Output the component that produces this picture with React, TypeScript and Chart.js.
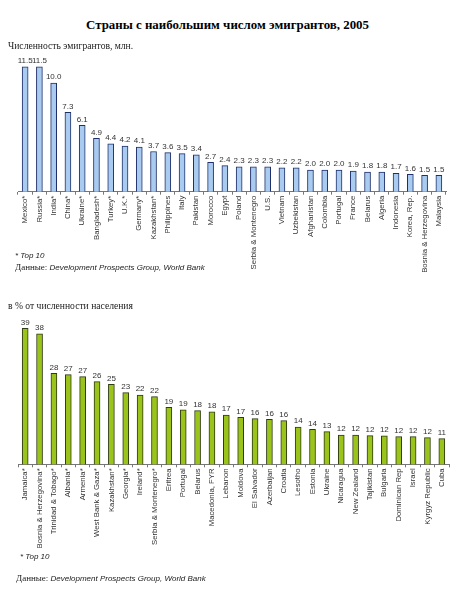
import { useEffect, useRef } from "react"
import { Chart, registerables } from "chart.js"

Chart.register(...registerables)

const emigrantCountries = [
  "Mexico*", "Russia*", "India*", "China*", "Ukraine*", "Bangladesh*", "Turkey*", "U.K.*",
  "Germany*", "Kazakhstan*", "Philippines", "Italy", "Pakistan", "Morocco", "Egypt", "Poland",
  "Serbia & Montenegro", "U.S.", "Vietnam", "Uzbekistan", "Afghanistan", "Colombia", "Portugal",
  "France", "Belarus", "Algeria", "Indonesia", "Korea, Rep.", "Bosnia & Herzegovina", "Malaysia",
]
const emigrantValues = [
  11.5, 11.5, 10.0, 7.3, 6.1, 4.9, 4.4, 4.2, 4.1, 3.7, 3.6, 3.5, 3.4, 2.7, 2.4,
  2.3, 2.3, 2.3, 2.2, 2.2, 2.0, 2.0, 2.0, 1.9, 1.8, 1.8, 1.7, 1.6, 1.5, 1.5,
]

const shareCountries = [
  "Jamaica*", "Bosnia & Herzegovina*", "Trinidad & Tobago*", "Albania*", "Armenia*",
  "West Bank & Gaza*", "Kazakhstan*", "Georgia*", "Ireland*", "Serbia & Montenegro*", "Eritrea",
  "Portugal", "Belarus", "Macedonia, FYR", "Lebanon", "Moldova", "El Salvador", "Azerbaijan",
  "Croatia", "Lesotho", "Estonia", "Ukraine", "Nicaragua", "New Zealand", "Tajikistan", "Bulgaria",
  "Dominican Rep", "Israel", "Kyrgyz Republic", "Cuba",
]
const shareValues = [
  39.0, 37.6, 27.75, 27.4, 26.9, 25.65, 25.0, 22.9, 22.3, 21.9, 19.25, 18.6, 18.4, 18.1, 17.3,
  16.75, 16.4, 16.25, 15.9, 14.3, 13.75, 13.15, 12.3, 12.3, 12.15, 12.1, 11.9, 11.9, 11.65, 11.4,
]

const SANS = "'Liberation Sans', Arial, sans-serif"
const SERIF = "'Liberation Serif', 'Times New Roman', serif"

interface BarPanelProps {
  labels: string[]
  values: number[]
  fill: string
  border: string
  yMin: number
  yMax: number
  decimals: number
  top: number
  height: number
  padLeft: number
  padRight: number
  padTop: number
  axisHeight: number
}

function BarPanel(props: BarPanelProps) {
  const canvasRef = useRef<HTMLCanvasElement>(null)

  useEffect(() => {
    if (!canvasRef.current) return
    const ctx = canvasRef.current.getContext("2d")
    if (!ctx) return

    // value labels above each bar
    const valueLabels = {
      id: "valueLabels",
      afterDatasetsDraw(chart: Chart) {
        const c = chart.ctx
        const meta = chart.getDatasetMeta(0)
        c.save()
        c.font = `8px ${SANS}`
        c.fillStyle = "#333"
        c.textAlign = "center"
        c.textBaseline = "bottom"
        meta.data.forEach((bar: any, i: number) => {
          c.fillText(props.values[i].toFixed(props.decimals), bar.x, bar.y - 2)
        })
        c.restore()
      },
    }

    const chart = new Chart(ctx, {
      type: "bar",
      data: {
        labels: props.labels,
        datasets: [
          {
            data: props.values,
            backgroundColor: props.fill,
            borderColor: props.border,
            borderWidth: 1,
            barThickness: 6,
          },
        ],
      },
      options: {
        animation: false,
        responsive: false,
        maintainAspectRatio: false,
        layout: {
          padding: { left: props.padLeft, right: props.padRight, top: props.padTop, bottom: 0 },
        },
        plugins: {
          legend: { display: false },
          tooltip: { enabled: false },
        },
        scales: {
          x: {
            afterFit: (scale: any) => {
              scale.height = props.axisHeight
            },
            grid: {
              drawOnChartArea: false,
              drawTicks: true,
              tickLength: 3,
              color: "#777",
            },
            border: { display: true, color: "#777" },
            ticks: {
              autoSkip: false,
              maxRotation: 90,
              minRotation: 90,
              padding: 1,
              color: "#333",
              font: { family: SANS, size: 7.8 },
            },
          },
          y: {
            display: false,
            min: props.yMin,
            max: props.yMax,
          },
        },
      },
      plugins: [valueLabels],
    })

    return () => {
      chart.destroy()
    }
  }, [props])

  return (
    <canvas
      ref={canvasRef}
      width={462}
      height={props.height}
      style={{ position: "absolute", left: 0, top: props.top, width: 462, height: props.height }}
    />
  )
}

function Text({ x, y, size, font, children, style }: any) {
  return (
    <div
      style={{
        position: "absolute",
        left: x,
        top: y - size / 2,
        fontSize: size,
        lineHeight: `${size}px`,
        fontFamily: font,
        whiteSpace: "nowrap",
        color: "#222",
        ...style,
      }}
    >
      {children}
    </div>
  )
}

export default function App() {
  return (
    <div style={{ position: "absolute", left: 0, top: 0, width: 462, height: 600, background: "#fff", overflow: "hidden" }}>
      <BarPanel
        labels={emigrantCountries}
        values={emigrantValues}
        fill="#a9cbf0"
        border="#1f2f6a"
        yMin={0}
        yMax={12}
        decimals={1}
        top={50}
        height={232}
        padLeft={18}
        padRight={16}
        padTop={11.3}
        axisHeight={90.3}
      />
      <BarPanel
        labels={shareCountries}
        values={shareValues}
        fill="#9ac31c"
        border="#2e3a12"
        yMin={5}
        yMax={40}
        decimals={0}
        top={310}
        height={260}
        padLeft={18}
        padRight={13}
        padTop={14.3}
        axisHeight={105.7}
      />

      <Text x={86} y={25} size={12.9} font={SERIF} style={{ fontWeight: "bold", color: "#000" }}>
        Страны с наибольшим числом эмигрантов, 2005
      </Text>
      <Text x={8} y={46} size={9.6} font={SERIF}>
        Численность эмигрантов, млн.
      </Text>
      <Text x={15} y={256} size={8} font={SANS} style={{ fontStyle: "italic" }}>
        * Top 10
      </Text>
      <Text x={15} y={267} size={9} font={SERIF}>
        Данные:{" "}
        <span style={{ fontFamily: SANS, fontStyle: "italic", fontSize: 8 }}>
          Development Prospects Group, World Bank
        </span>
      </Text>

      <Text x={8} y={306} size={9.6} font={SERIF}>
        в % от численности населения
      </Text>
      <Text x={20} y={557} size={8} font={SANS} style={{ fontStyle: "italic" }}>
        * Top 10
      </Text>
      <Text x={16} y={578} size={9} font={SERIF}>
        Данные:{" "}
        <span style={{ fontFamily: SANS, fontStyle: "italic", fontSize: 8 }}>
          Development Prospects Group, World Bank
        </span>
      </Text>
    </div>
  )
}
